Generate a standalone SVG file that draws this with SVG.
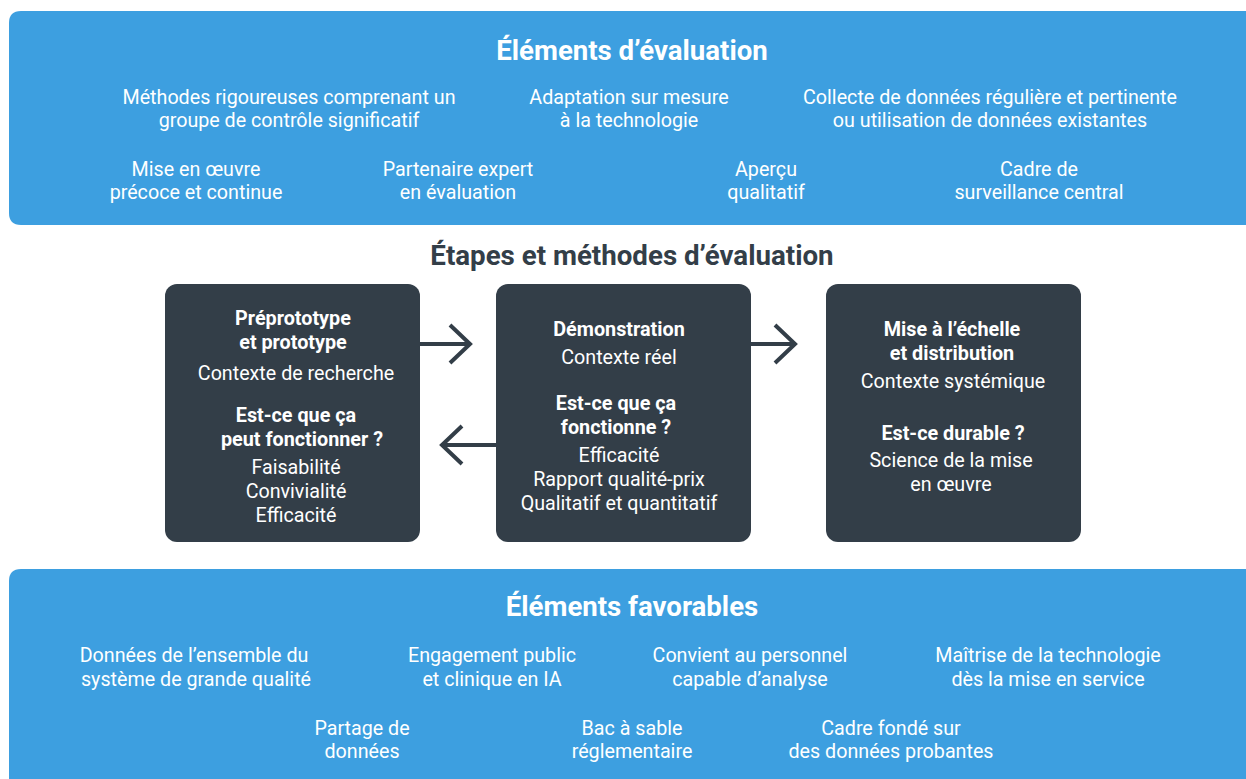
<svg xmlns="http://www.w3.org/2000/svg" width="1246" height="779" viewBox="0 0 1246 779">
  <defs>
    <style>
      .panel { fill: #3d9fe0; }
      .stage { fill: #333e48; }
      .t { font-family: Roboto, "Liberation Sans", sans-serif; text-anchor: middle; }
      .w { fill: #ffffff; font-size: 19.7px; }
      .head { fill: #ffffff; font-size: 27.6px; font-weight: 700; }
      .mid { fill: #333e48; font-size: 27.7px; font-weight: 700; }
      .b { fill: #ffffff; font-size: 19.8px; font-weight: 700; }
      .r { fill: #ffffff; font-size: 19.7px; }
      .arrow { fill: none; stroke: #333e48; stroke-width: 4; stroke-linejoin: miter; }
    </style>
  </defs>

  <!-- Evaluation elements band -->
  <g id="evaluation-elements">
    <path class="panel" d="M21 11 H1246 V225 H21 Q9 225 9 213 V23 Q9 11 21 11 Z"/>
    <text class="t head" x="632" y="60">Éléments d’évaluation</text>
    <text class="t w" x="289" y="104">Méthodes rigoureuses comprenant un</text>
    <text class="t w" x="289" y="127">groupe de contrôle significatif</text>
    <text class="t w" x="629" y="104">Adaptation sur mesure</text>
    <text class="t w" x="629" y="127">à la technologie</text>
    <text class="t w" x="990" y="104">Collecte de données régulière et pertinente</text>
    <text class="t w" x="990" y="127">ou utilisation de données existantes</text>
    <text class="t w" x="196" y="176">Mise en œuvre</text>
    <text class="t w" x="196" y="199">précoce et continue</text>
    <text class="t w" x="458" y="176">Partenaire expert</text>
    <text class="t w" x="458" y="199">en évaluation</text>
    <text class="t w" x="766" y="176">Aperçu</text>
    <text class="t w" x="766" y="199">qualitatif</text>
    <text class="t w" x="1039" y="176">Cadre de</text>
    <text class="t w" x="1039" y="199">surveillance central</text>
  </g>

  <text class="t mid" x="632" y="265">Étapes et méthodes d’évaluation</text>

  <!-- Stage 1 -->
  <g id="stage-prototype">
    <rect class="stage" x="165" y="284" width="255" height="258" rx="12"/>
    <text class="t b" x="293" y="325">Préprototype</text>
    <text class="t b" x="293" y="349">et prototype</text>
    <text class="t r" x="296" y="380">Contexte de recherche</text>
    <text class="t b" x="296" y="422">Est-ce que ça</text>
    <text class="t b" x="302" y="446">peut fonctionner ?</text>
    <text class="t r" x="296" y="474">Faisabilité</text>
    <text class="t r" x="296" y="498">Convivialité</text>
    <text class="t r" x="296" y="522">Efficacité</text>
  </g>

  <!-- Stage 2 -->
  <g id="stage-demonstration">
    <rect class="stage" x="496" y="284" width="255" height="258" rx="12"/>
    <text class="t b" x="619" y="336">Démonstration</text>
    <text class="t r" x="619" y="364">Contexte réel</text>
    <text class="t b" x="616" y="410">Est-ce que ça</text>
    <text class="t b" x="616" y="434">fonctionne ?</text>
    <text class="t r" x="619" y="462">Efficacité</text>
    <text class="t r" x="619" y="486">Rapport qualité-prix</text>
    <text class="t r" x="619" y="510">Qualitatif et quantitatif</text>
  </g>

  <!-- Stage 3 -->
  <g id="stage-scale">
    <rect class="stage" x="826" y="284" width="255" height="258" rx="12"/>
    <text class="t b" x="952" y="336">Mise à l’échelle</text>
    <text class="t b" x="952" y="360">et distribution</text>
    <text class="t r" x="953" y="388">Contexte systémique</text>
    <text class="t b" x="953" y="440">Est-ce durable ?</text>
    <text class="t r" x="951" y="467">Science de la mise</text>
    <text class="t r" x="951" y="491">en œuvre</text>
  </g>

  <!-- Connectors between stages -->
  <g id="connectors">
    <path class="arrow" d="M420 344 H470 M450 325 L470 344 L450 363"/>
    <path class="arrow" d="M751 344 H795 M775 325 L795 344 L775 363"/>
    <path class="arrow" d="M496 445 H442 M462 426 L442 445 L462 464"/>
  </g>

  <!-- Enabling elements band -->
  <g id="enabling-elements">
    <path class="panel" d="M21 569 H1246 V779 H9 V581 Q9 569 21 569 Z"/>
    <text class="t head" x="632" y="616">Éléments favorables</text>
    <text class="t w" x="194" y="662">Données de l’ensemble du</text>
    <text class="t w" x="196" y="686">système de grande qualité</text>
    <text class="t w" x="492" y="662">Engagement public</text>
    <text class="t w" x="492" y="686">et clinique en IA</text>
    <text class="t w" x="750" y="662">Convient au personnel</text>
    <text class="t w" x="750" y="686">capable d’analyse</text>
    <text class="t w" x="1048" y="662">Maîtrise de la technologie</text>
    <text class="t w" x="1048" y="686">dès la mise en service</text>
    <text class="t w" x="362" y="735">Partage de</text>
    <text class="t w" x="362" y="758">données</text>
    <text class="t w" x="632" y="735">Bac à sable</text>
    <text class="t w" x="632" y="758">réglementaire</text>
    <text class="t w" x="891" y="735">Cadre fondé sur</text>
    <text class="t w" x="891" y="758">des données probantes</text>
  </g>
</svg>
